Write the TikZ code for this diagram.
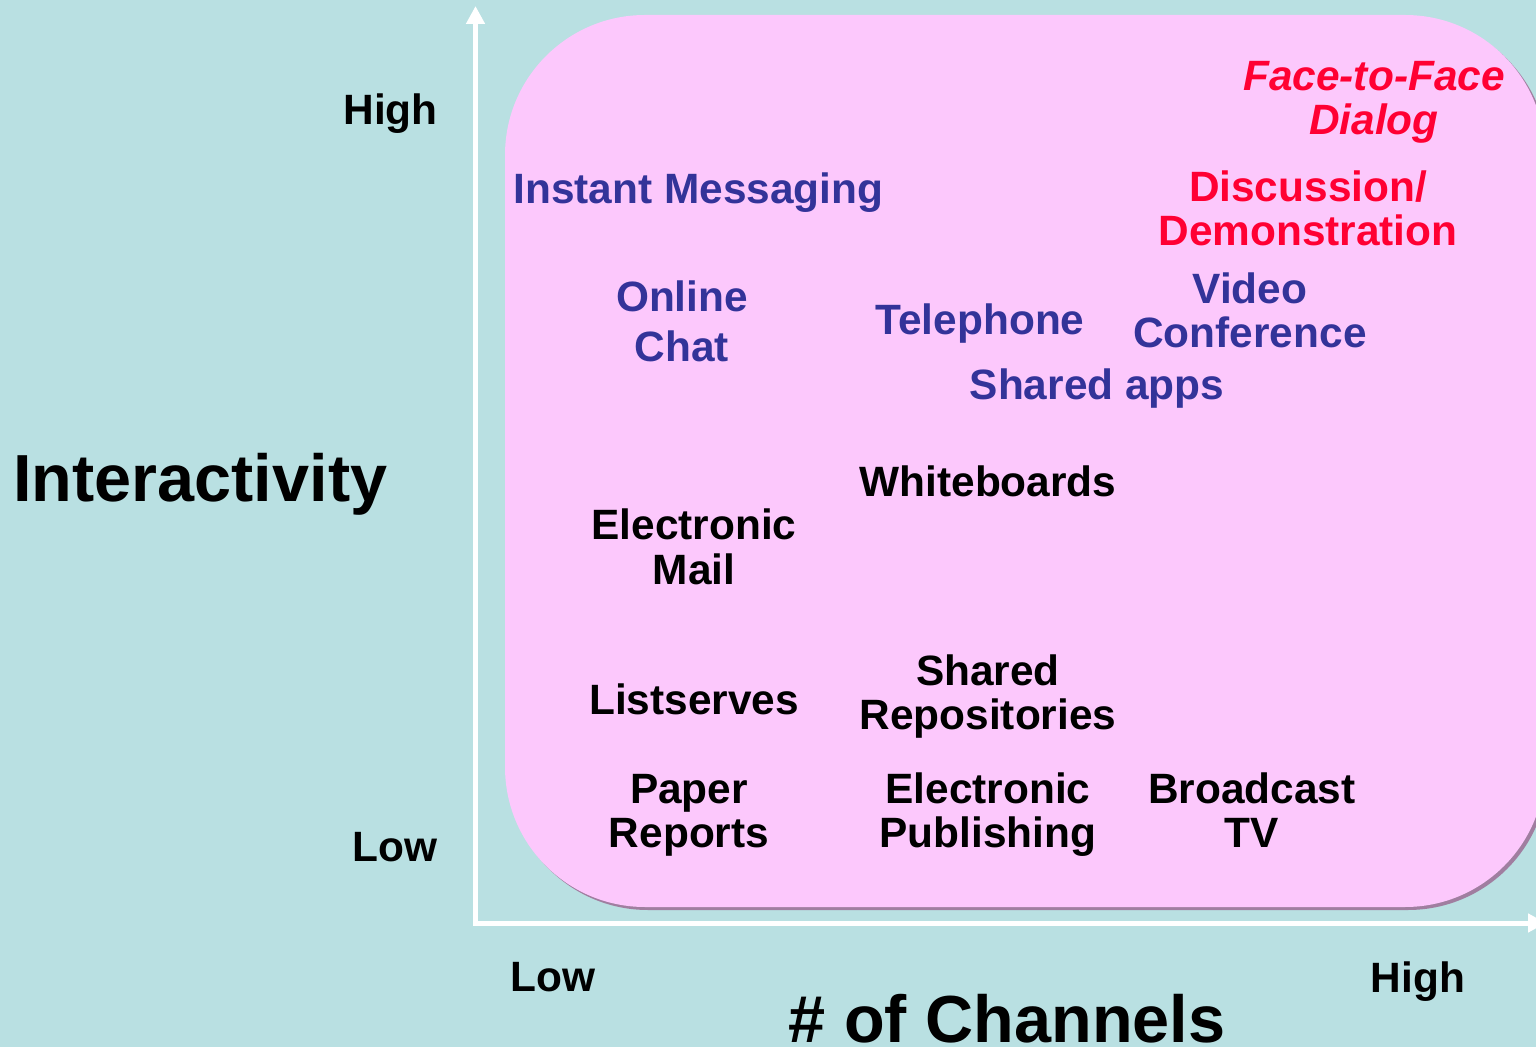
\documentclass[tikz,border=0pt]{standalone}
\usepackage{fontspec}
\setmainfont{Liberation Sans}
\usetikzlibrary{arrows.meta}
\definecolor{bgteal}{RGB}{185,224,226}
\definecolor{boxpink}{RGB}{252,200,252}
\definecolor{boxshade}{RGB}{160,126,160}
\definecolor{chanblue}{RGB}{51,51,153}
\definecolor{chanred}{RGB}{255,0,51}
\tikzset{
  lbl/.style={font=\bfseries\fontsize{21.2}{22}\selectfont, align=center, anchor=base, inner sep=0pt},
  big/.style={font=\bfseries\fontsize{33.3}{34}\selectfont, anchor=base, inner sep=0pt},
  hot/.style={lbl, text=chanred},
  rich/.style={lbl, text=chanblue},
  axis/.style={draw=white, line width=2.5pt, {Triangle[length=9pt,width=9pt]}-{Triangle[length=9pt,width=9pt]}},
}
\begin{document}
\begin{tikzpicture}[x=0.5pt,y=-0.5pt]
\useasboundingbox (0,0) rectangle (1536,1047);
\clip (0,0) rectangle (1536,1047);
\fill[bgteal] (0,0) rectangle (1536,1047);
\fill[boxshade, rounded corners=70pt] (508,18) rectangle (1548,910);
\fill[boxpink, rounded corners=70pt] (505,15) rectangle (1545,907);

\coordinate (ytop) at (475.5,6);
\coordinate (o) at (475.5,923);
\coordinate (xend) at (1546,923);
\draw[axis] (ytop) -- (o) -- (xend);

% axis labels
\node[lbl, anchor=base east] (yhigh) at (438,125) {High};
\node[lbl, anchor=base east] (ylow) at (438,861) {Low};
\node[big, anchor=base west] (ylabel) at (13,502) {Interactivity};
\node[lbl] (xlow) at (553,991) {Low};
\node[lbl] (xhigh) at (1418,992) {High};
\node[big] (xlabel) at (1007,1042) {\# of Channels};

% channels (multi-line nodes sit on their last line)
\node[hot, font=\bfseries\itshape\fontsize{21.2}{22}\selectfont] (face) at (1374,135) {Face-to-Face\\Dialog};
\node[hot] (demo) at (1308,246) {Discussion/\\Demonstration};
\node[rich, anchor=base west] (im) at (513,204) {Instant Messaging};
\node[rich] (chat) at (682,362) {Online\\[3pt]Chat};
\node[rich] (phone) at (980,335) {Telephone};
\node[rich] (video) at (1250,348) {Video\\Conference};
\node[rich] (apps) at (1097,400) {Shared apps};

\node[lbl] (boards) at (988,497) {Whiteboards};
\node[lbl] (mail) at (694,584) {Electronic\\Mail};
\node[lbl] (lists) at (694,714) {Listserves};
\node[lbl] (repos) at (988,729) {Shared\\Repositories};
\node[lbl] (paper) at (689,847) {Paper\\Reports};
\node[lbl] (epub) at (988,847) {Electronic\\Publishing};
\node[lbl] (tv) at (1252,847) {Broadcast\\TV};
\end{tikzpicture}
\end{document}
